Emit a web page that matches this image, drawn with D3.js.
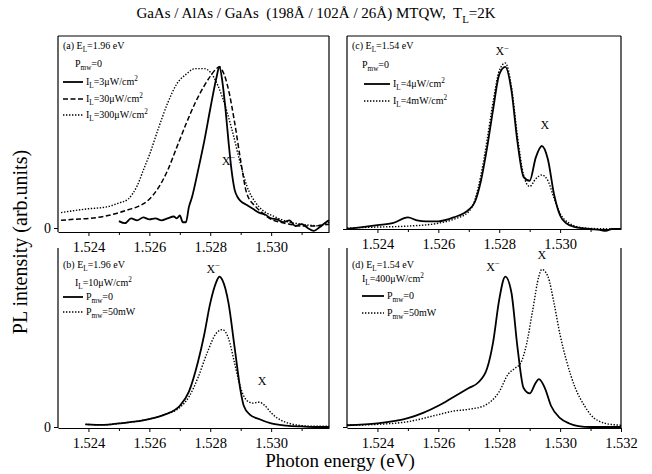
<!DOCTYPE html>
<html><head><meta charset="utf-8">
<script src="https://cdn.jsdelivr.net/npm/d3@7"></script>
<style>
body{margin:0;background:#fff}
svg{display:block}
text{font-family:"Liberation Serif","Times New Roman",serif;fill:#000}
</style>
</head><body>
<svg id="chart" width="652" height="474"></svg>
<script>
// ---------------- data ----------------
const xTickLabels = [1.524, 1.526, 1.528, 1.530];
const xTickLabelsD = [1.524, 1.526, 1.528, 1.530, 1.532];
const xMinorTicks = [1.523, 1.525, 1.527, 1.529, 1.531];

// panel (a)  E_L=1.96 eV, P_mw=0
const aE3 = [1.5250,1.5252,1.5254,1.5256,1.5258,1.5260,1.5262,1.5264,1.5266,1.5268,1.5269,1.5270,1.5271,1.5272,1.5273,1.5274,1.5276,1.5278,1.5280,1.5282,1.5283,1.5284,1.5285,1.5286,1.5287,1.5288,1.5289,1.5290,1.5292,1.5294,1.5296,1.5298,1.5300,1.5302,1.5304,1.5306,1.5308,1.5310,1.5312,1.5314,1.5316,1.5318,1.5319];
const aI3 = [0.036,0.025,0.05,0.04,0.055,0.045,0.05,0.04,0.05,0.06,0.05,0.065,0.03,0.03,0.11,0.16,0.3,0.45,0.62,0.78,0.84,0.76,0.62,0.45,0.3,0.2,0.16,0.14,0.12,0.1,0.08,0.07,0.05,0.045,0.03,0.04,0.01,0.02,0.0,-0.015,0.005,0.03,0.04];
const aE30 = [1.5231,1.5235,1.524,1.5245,1.525,1.5253,1.5256,1.526,1.5263,1.5266,1.5269,1.5272,1.5275,1.5278,1.528,1.5282,1.5283,1.5284,1.5286,1.5288,1.529,1.5292,1.5295,1.5297,1.53,1.5303,1.5306,1.531,1.5314,1.5317,1.5319];
const aI30 = [0.04,0.045,0.05,0.06,0.08,0.095,0.11,0.15,0.21,0.3,0.42,0.54,0.65,0.74,0.79,0.83,0.84,0.82,0.72,0.55,0.35,0.18,0.11,0.08,0.045,0.03,0.02,0.01,0.01,0.015,0.02];
const aE300 = [1.5231,1.5235,1.524,1.5246,1.525,1.5253,1.5256,1.5258,1.526,1.5263,1.5266,1.5269,1.5272,1.5275,1.5278,1.5281,1.5284,1.5287,1.529,1.5292,1.5295,1.5297,1.5301,1.5306,1.531,1.5315,1.5319];
const aI300 = [0.08,0.09,0.10,0.11,0.13,0.15,0.22,0.3,0.38,0.52,0.65,0.75,0.8,0.83,0.83,0.79,0.68,0.52,0.33,0.22,0.13,0.095,0.06,0.03,0.02,0.012,0.03];

// panel (b)  E_L=1.96 eV, I_L=10 uW/cm2
const bE0 = [1.5239,1.5245,1.525,1.5255,1.526,1.5265,1.527,1.5273,1.5276,1.5278,1.528,1.5282,1.5283,1.5284,1.5286,1.5288,1.529,1.5291,1.5293,1.5296,1.53,1.5305,1.531,1.5315,1.5319];
const bI0 = [0.015,0.012,0.02,0.03,0.045,0.07,0.12,0.2,0.37,0.52,0.7,0.82,0.85,0.83,0.7,0.45,0.2,0.12,0.07,0.045,0.02,0.008,0.003,0.0,0.0];
const bE50 = [1.5239,1.5245,1.525,1.5255,1.526,1.5265,1.527,1.5273,1.5276,1.5279,1.5282,1.5284,1.5286,1.5288,1.529,1.5292,1.5294,1.5296,1.5298,1.53,1.5303,1.5306,1.531,1.5315,1.5319];
const bI50 = [0.015,0.012,0.02,0.03,0.045,0.07,0.11,0.17,0.28,0.42,0.53,0.55,0.5,0.36,0.22,0.15,0.135,0.14,0.12,0.08,0.04,0.02,0.008,0.004,0.004];

// panel (c)  E_L=1.54 eV, P_mw=0
const cE4u = [1.523,1.5235,1.524,1.5245,1.525,1.5253,1.5256,1.526,1.5265,1.527,1.5272,1.5274,1.5276,1.5278,1.528,1.5282,1.5284,1.5286,1.5288,1.529,1.5292,1.5294,1.5296,1.5298,1.53,1.5302,1.5305,1.531,1.5313,1.5315,1.5317,1.532];
const cI4u = [0.0,0.01,0.02,0.03,0.06,0.045,0.04,0.04,0.06,0.1,0.14,0.25,0.42,0.62,0.8,0.84,0.72,0.45,0.27,0.25,0.37,0.43,0.36,0.18,0.07,0.03,0.01,0.0,-0.005,-0.01,0.0,0.0];
const cE4m = [1.523,1.524,1.525,1.526,1.5265,1.527,1.5272,1.5274,1.5276,1.5278,1.528,1.5282,1.5284,1.5286,1.5288,1.529,1.5292,1.5294,1.5296,1.5298,1.53,1.5303,1.5306,1.531,1.532];
const cI4m = [0.005,0.01,0.015,0.03,0.05,0.09,0.15,0.28,0.46,0.66,0.82,0.86,0.74,0.48,0.28,0.22,0.26,0.28,0.25,0.16,0.08,0.03,0.01,0.003,0.0];

// panel (d)  E_L=1.54 eV, I_L=400 uW/cm2
const dE0 = [1.523,1.524,1.525,1.5255,1.526,1.5265,1.527,1.5273,1.5276,1.5278,1.528,1.5282,1.5284,1.5286,1.5288,1.529,1.5292,1.5293,1.5295,1.5297,1.53,1.5303,1.5306,1.531,1.532];
const dI0 = [0.01,0.02,0.05,0.08,0.12,0.17,0.22,0.25,0.33,0.48,0.72,0.85,0.76,0.45,0.22,0.19,0.25,0.27,0.22,0.12,0.05,0.02,0.005,0.0,0.0];
const dE50 = [1.523,1.524,1.525,1.526,1.5265,1.527,1.5275,1.528,1.5283,1.5285,1.5287,1.5289,1.5291,1.5293,1.5294,1.5296,1.5298,1.53,1.5302,1.5305,1.5308,1.531,1.5315,1.532];
const dI50 = [0.01,0.015,0.03,0.07,0.09,0.1,0.12,0.2,0.3,0.33,0.36,0.47,0.66,0.85,0.89,0.85,0.7,0.52,0.38,0.22,0.12,0.07,0.02,0.01];

// ---------------- drawing ----------------
const svg = d3.select('#chart');
const STY = {
  solid:{w:1.8, dash:null},
  dashed:{w:1.5, dash:'5,2.5'},
  dotted:{w:1.4, dash:'1.4,1.6'}
};

function rich(g, x, y, str, size, anchor){
  const t = g.append('text').attr('x',x).attr('y',y).attr('font-size',size)
    .attr('text-anchor',anchor||'start');
  const re = /([_^])\{([^}]*)\}|([^_^]+)/g; let m, pending = 0;
  while((m = re.exec(str))){
    if(m[3]){
      const s = t.append('tspan').text(m[3]);
      if(pending){ s.attr('dy',pending); pending = 0; }
    } else {
      const sh = m[1]==='_' ? size*0.3 : -size*0.4;
      t.append('tspan').attr('font-size',size*0.72).attr('dy',sh + pending).text(m[2]);
      pending = -sh;
    }
  }
  return t;
}

function panel(cfg){
  const g = svg.append('g');
  const x = d3.scaleLinear().domain(cfg.xd).range([cfg.x0, cfg.x1]);
  const y = d3.scaleLinear().domain([0,1]).range([cfg.zero, cfg.one]);
  if(cfg.topBorder) g.append('line').attr('x1',cfg.x0).attr('x2',cfg.x1).attr('y1',cfg.top).attr('y2',cfg.top).attr('stroke','#000').attr('stroke-width',1.2);
  g.append('line').attr('x1',cfg.x0).attr('x2',cfg.x0).attr('y1',cfg.top).attr('y2',cfg.bottom).attr('stroke','#000').attr('stroke-width',1.2);
  g.append('line').attr('x1',cfg.x1).attr('x2',cfg.x1).attr('y1',cfg.top).attr('y2',cfg.bottom).attr('stroke','#000').attr('stroke-width',1.2);
  const ax = g.append('g').attr('transform',`translate(0,${cfg.bottom})`)
    .call(d3.axisBottom(x).tickValues(cfg.ticks).tickFormat(d3.format('.3f')).tickSize(4).tickSizeOuter(0));
  ax.select('.domain').attr('stroke-width',1.2);
  ax.selectAll('text').attr('font-size',14.5).attr('dy','0.9em').attr('font-family','"Liberation Serif",serif');
  const ax2 = g.append('g').attr('transform',`translate(0,${cfg.bottom})`)
    .call(d3.axisBottom(x).tickValues(xMinorTicks.filter(v=>x(v)>cfg.x0+2 && x(v)<cfg.x1-2)).tickFormat('').tickSize(3).tickSizeOuter(0));
  ax2.select('.domain').remove();
  const ay = g.append('g').attr('transform',`translate(${cfg.x0},0)`)
    .call(d3.axisLeft(y).tickValues([0]).tickFormat(cfg.zeroLabel ? d3.format('d') : '').tickSize(4).tickSizeOuter(0));
  ay.select('.domain').remove();
  ay.selectAll('text').attr('font-size',14).attr('font-family','"Liberation Serif",serif');
  const line = d3.line().x(d=>x(d[0])).y(d=>y(d[1])).curve(d3.curveMonotoneX);
  cfg.series.forEach(s=>{
    const pts = s.e.map((e,i)=>[e, s.i[i]]);
    g.append('path').attr('d', line(pts)).attr('fill','none').attr('stroke','#000')
      .attr('stroke-width', STY[s.style].w).attr('stroke-dasharray', STY[s.style].dash)
      .attr('stroke-linejoin','round');
  });
  cfg.texts.forEach(t=> rich(g, t.x, t.y, t.s, t.size||10, t.anchor));
  cfg.legend.forEach(l=>{
    g.append('line').attr('x1',l.x1).attr('x2',l.x2).attr('y1',l.y).attr('y2',l.y).attr('stroke','#000')
      .attr('stroke-width',STY[l.style].w).attr('stroke-dasharray',STY[l.style].dash);
    rich(g, l.x2+3, l.y+3, l.s, 10);
  });
  cfg.peaks.forEach(p=> rich(g, x(p.e), y(p.v), p.s, 12, 'middle'));
}

panel({x0:58, x1:329, xd:[1.523,1.5319], top:36, bottom:232, zero:228, one:36, topBorder:true, zeroLabel:true,
  ticks:xTickLabels,
  series:[{e:aE3,i:aI3,style:'solid'},{e:aE30,i:aI30,style:'dashed'},{e:aE300,i:aI300,style:'dotted'}],
  texts:[{x:63,y:49,s:'(a) E_{L}=1.96 eV'},{x:75,y:67,s:'P_{mw}=0'}],
  legend:[{x1:63,x2:83,y:82,style:'solid',s:'I_{L}=3μW/cm^{2}'},
          {x1:63,x2:83,y:99,style:'dashed',s:'I_{L}=30μW/cm^{2}'},
          {x1:63,x2:83,y:115,style:'dotted',s:'I_{L}=300μW/cm^{2}'}],
  peaks:[{e:1.5286,v:0.33,s:'X^{−}'}]
});
panel({x0:58, x1:329, xd:[1.523,1.5319], top:248, bottom:428, zero:427, one:250, topBorder:false, zeroLabel:true,
  ticks:xTickLabels,
  series:[{e:bE0,i:bI0,style:'solid'},{e:bE50,i:bI50,style:'dotted'}],
  texts:[{x:63,y:268,s:'(b) E_{L}=1.96 eV'},{x:75,y:286,s:'I_{L}=10μW/cm^{2}'}],
  legend:[{x1:63,x2:83,y:297,style:'solid',s:'P_{mw}=0'},
          {x1:63,x2:83,y:312,style:'dotted',s:'P_{mw}=50mW'}],
  peaks:[{e:1.5281,v:0.87,s:'X^{−}'},{e:1.5297,v:0.24,s:'X'}]
});
panel({x0:347, x1:621, xd:[1.523,1.532], top:36, bottom:229, zero:229, one:36, topBorder:true, zeroLabel:false,
  ticks:xTickLabels,
  series:[{e:cE4u,i:cI4u,style:'solid'},{e:cE4m,i:cI4m,style:'dotted'}],
  texts:[{x:352,y:49,s:'(c) E_{L}=1.54 eV'},{x:362,y:68,s:'P_{mw}=0'}],
  legend:[{x1:364,x2:390,y:84,style:'solid',s:'I_{L}=4μW/cm^{2}'},
          {x1:364,x2:390,y:101,style:'dotted',s:'I_{L}=4mW/cm^{2}'}],
  peaks:[{e:1.5281,v:0.9,s:'X^{−}'},{e:1.5295,v:0.52,s:'X'}]
});
panel({x0:347, x1:621, xd:[1.523,1.532], top:248, bottom:428, zero:427, one:250, topBorder:false, zeroLabel:false,
  ticks:xTickLabelsD,
  series:[{e:dE0,i:dI0,style:'solid'},{e:dE50,i:dI50,style:'dotted'}],
  texts:[{x:352,y:268,s:'(d) E_{L}=1.54 eV'},{x:362,y:282,s:'I_{L}=400μW/cm^{2}'}],
  legend:[{x1:362,x2:384,y:296,style:'solid',s:'P_{mw}=0'},
          {x1:362,x2:384,y:313,style:'dotted',s:'P_{mw}=50mW'}],
  peaks:[{e:1.5278,v:0.88,s:'X^{−}'},{e:1.5294,v:0.95,s:'X'}]
});

// titles
rich(svg, 316, 18, 'GaAs / AlAs / GaAs  (198Å / 102Å / 26Å) MTQW,  T_{L}=2K', 15, 'middle').style('white-space','pre');
rich(svg, 340, 467, 'Photon energy (eV)', 19, 'middle');
rich(svg, 0, 0, 'PL intensity (arb.units)', 20, 'middle').attr('transform','translate(27,242) rotate(-90)');
</script>
</body></html>
